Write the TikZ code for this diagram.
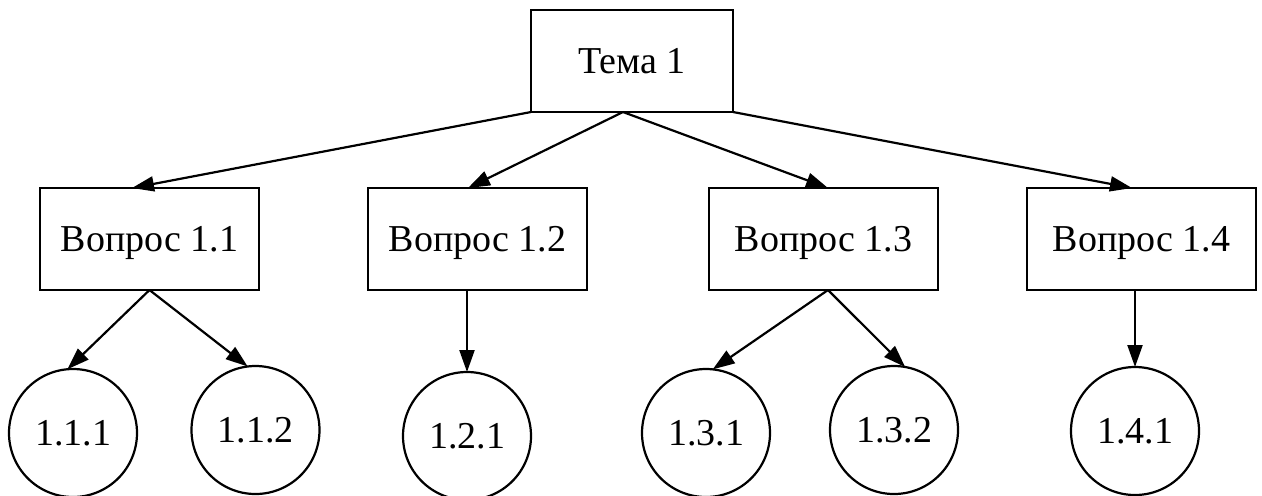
\documentclass[tikz,border=0pt]{standalone}
\usepackage{fontspec}
\setmainfont{Liberation Serif}
\usetikzlibrary{arrows.meta,calc}
\begin{document}
\begin{tikzpicture}[x=0.5pt,y=-0.5pt,
  every node/.style={font=\fontsize{19}{23}\selectfont, line width=1.1pt, inner sep=0pt, outer sep=0pt, text height=12.5pt, text depth=0pt},
  box/.style={draw, rectangle, minimum height=51pt},
  leaf/.style={draw, circle, minimum size=64pt},
  link/.style={line width=1.1pt, -{Triangle[length=11pt,width=7.5pt]}}]
\useasboundingbox (0,0) rectangle (1262,495);
\node[box, minimum width=101pt] (tema) at (632,61) {Тема 1};
\node[box, minimum width=109.5pt] (q11) at (149.5,239) {Вопрос 1.1};
\node[box, minimum width=109.5pt] (q12) at (477.5,239) {Вопрос 1.2};
\node[box, minimum width=114.5pt] (q13) at (823.5,239) {Вопрос 1.3};
\node[box, minimum width=114.5pt] (q14) at (1141.5,239) {Вопрос 1.4};
\node[leaf] (c111) at (73,433) {1.1.1};
\node[leaf] (c112) at (255.5,430) {1.1.2};
\node[leaf] (c121) at (467,436) {1.2.1};
\node[leaf] (c131) at (706,433) {1.3.1};
\node[leaf] (c132) at (894,430) {1.3.2};
\node[leaf] (c141) at (1135,431) {1.4.1};
\coordinate (tm) at ($(tema.south)+(-9,0)$);
\draw[link] (tema.south west) -- ($(q11.north)+(-17.5,0)$);
\draw[link] (tm) -- ($(q12.north)+(-9.5,0)$);
\draw[link] (tm) -- ($(q13.north)+(4.5,0)$);
\draw[link] (tema.south east) -- ($(q14.north)+(-9.5,0)$);
\draw[link] (q11.south) -- (c111.95);
\draw[link] (q11.south) -- (c112.97);
\draw[link] (c121.north |- q12.south) -- (c121.north);
\coordinate (q13s) at ($(q13.south)+(4.5,0)$);
\draw[link] (q13s) -- (c131.84);
\draw[link] (q13s) -- (c132.80);
\draw[link] (c141.north |- q14.south) -- (c141.north);
\end{tikzpicture}
\end{document}
